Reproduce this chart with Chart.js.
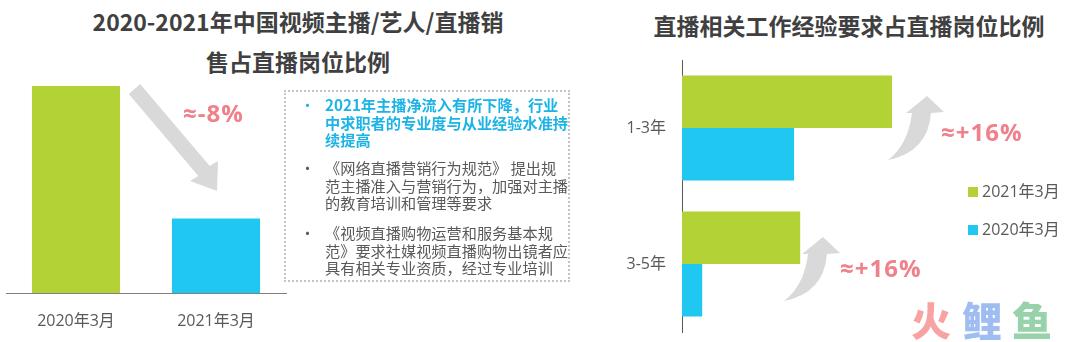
<!DOCTYPE html>
<html>
<head>
<meta charset="utf-8">
<script src="https://cdn.jsdelivr.net/npm/chart.js@4.4.1/dist/chart.umd.min.js"></script>
<style>
  html, body { margin:0; padding:0; background:#fff; }
  body { width:1080px; height:342px; position:relative; overflow:hidden; font-family:"Noto Sans CJK SC","Noto Sans",sans-serif; }
  .abs { position:absolute; }
  .title { color:#404040; font-weight:700; font-size:23px; white-space:nowrap; line-height:30px; transform:translateX(-50%); text-align:center; }
  .box { left:284px; top:90px; width:282px; height:188px; border:2px dotted #c4c4c4; box-sizing:content-box; }
  .para { left:325px; font-size:15.2px; line-height:17.5px; white-space:nowrap; color:#595959; }
  .para.hl { color:#1cb4e6; font-weight:700; }
  .bullet { left:300px; font-size:15px; line-height:17.5px; color:#595959; }
  .pct { color:#f0808a; font-weight:700; font-size:24px; font-family:"Open Sans","Noto Sans",sans-serif; white-space:nowrap; line-height:28px; letter-spacing:1px; }
  .leg { font-size:16px; color:#595959; white-space:nowrap; line-height:20px; font-family:"Open Sans","Noto Sans CJK SC",sans-serif; }
  .leg i { display:inline-block; width:10px; height:10px; margin-right:4px; vertical-align:0px; }
  .wm { font-weight:900; font-size:40px; line-height:44px; }
</style>
</head>
<body>
<div class="abs title" style="left:298px;top:6px;">2020-2021年中国视频主播/艺人/直播销</div>
<div class="abs title" style="left:298px;top:46px;">售占直播岗位比例</div>
<div class="abs title" style="left:849px;top:10px;">直播相关工作经验要求占直播岗位比例</div>

<canvas id="left" class="abs" width="292" height="342" style="left:0;top:0;"></canvas>
<canvas id="right" class="abs" width="380" height="342" style="left:580px;top:0;"></canvas>

<svg class="abs" width="1080" height="342" style="left:0;top:0;pointer-events:none;">
  <polygon fill="#d9d9d9" points="140.2,84.1 209.7,166.1 218,161 217,191 190,181 198.3,175.9 128.8,93.9"/>
  <path fill="#d9d9d9" d="M 888 160 Q 908 145 912 113 L 906 113 L 927 96 L 944 112 L 931 113 Q 928 152 888 160 Z"/>
  <path fill="#d9d9d9" d="M 784 301 Q 804 286 808 254 L 802 254 L 823 237 L 840 253 L 827 254 Q 824 293 784 301 Z"/>
</svg>

<div class="abs pct" style="left:183px;top:99px;">≈-8%</div>
<div class="abs pct" style="left:941px;top:118px;">≈+16%</div>
<div class="abs pct" style="left:840px;top:254px;">≈+16%</div>

<div class="abs box"></div>
<div class="abs bullet" style="top:96px;color:#1cb4e6;">•</div>
<div class="abs para hl" style="top:96px;">2021年主播净流入有所下降，行业<br>中求职者的专业度与从业经验水准持<br>续提高</div>
<div class="abs bullet" style="top:159px;">•</div>
<div class="abs para" style="top:159px;">《网络直播营销行为规范》 提出规<br>范主播准入与营销行为，加强对主播<br>的教育培训和管理等要求</div>
<div class="abs bullet" style="top:224px;">•</div>
<div class="abs para" style="top:224px;">《视频直播购物运营和服务基本规<br>范》要求社媒视频直播购物出镜者应<br>具有相关专业资质，经过专业培训</div>

<div id="legend"></div>

<div class="abs wm" style="left:911px;top:297px;color:#f7a3a3;">火</div>
<div class="abs wm" style="left:962px;top:297px;color:#9fbdf0;">鲤</div>
<div class="abs wm" style="left:1012px;top:297px;color:#98d2aa;">鱼</div>

<script>
// ---- data ----
const leftCategories = ['2020年3月', '2021年3月'];
const leftValues = [12.5, 4.5];
const leftColors = ['#b2d235', '#20c7f0'];

const rightCategories = ['1-3年', '3-5年'];
const rightSeriesNames = ['2021年3月', '2020年3月'];
const rightValues2021 = [34.3, 19.3];
const rightValues2020 = [18.3, 3.3];
const rightColors = ['#b2d235', '#20c7f0'];

Chart.defaults.font.family = "'Open Sans','Noto Sans CJK SC',sans-serif";
Chart.defaults.animation = false;

new Chart(document.getElementById('left'), {
  type: 'bar',
  data: {
    labels: leftCategories,
    datasets: [{ data: leftValues, backgroundColor: leftColors, borderWidth: 0,
      categoryPercentage: 0.629, barPercentage: 1 }]
  },
  options: {
    responsive: false,
    layout: { padding: { top: 60, left: 6, right: 6, bottom: 0 } },
    plugins: { legend: { display: false }, tooltip: { enabled: false } },
    scales: {
      y: { display: false, min: 0, max: 14.07 },
      x: {
        grid: { display: false, drawTicks: false },
        border: { display: true, color: '#808080', width: 1 },
        ticks: { color: '#595959', font: { size: 16 }, padding: 19 },
        afterFit(scale) { scale.height = 49; scale.paddingLeft = 0; scale.paddingRight = 0; }
      }
    }
  }
});

new Chart(document.getElementById('right'), {
  type: 'bar',
  data: {
    labels: rightCategories,
    datasets: [
      { label: rightSeriesNames[0], data: rightValues2021, backgroundColor: rightColors[0], borderWidth: 0, categoryPercentage: 0.772, barPercentage: 1 },
      { label: rightSeriesNames[1], data: rightValues2020, backgroundColor: rightColors[1], borderWidth: 0, categoryPercentage: 0.772, barPercentage: 1 }
    ]
  },
  options: {
    indexAxis: 'y',
    responsive: false,
    layout: { padding: { top: 60, left: 22, right: 0, bottom: 10 } },
    plugins: { legend: { display: false }, tooltip: { enabled: false } },
    scales: {
      x: { display: false, min: 0, max: 45.4 },
      y: {
        grid: { display: false, drawTicks: false },
        border: { display: true, color: '#595959', width: 1 },
        ticks: { color: '#595959', font: { size: 16 }, padding: 16 },
        afterFit(scale) { scale.width = 80; scale.paddingTop = 0; scale.paddingBottom = 0; }
      }
    }
  }
});

// HTML legend built from series names and colors
const legendTops = [181, 219];
const lg = document.getElementById('legend');
rightSeriesNames.forEach((name, i) => {
  const d = document.createElement('div');
  d.className = 'abs leg';
  d.style.left = '968px';
  d.style.top = legendTops[i] + 'px';
  d.innerHTML = '<i style="background:' + rightColors[i] + '"></i>' + name;
  lg.appendChild(d);
});
</script>
</body>
</html>
